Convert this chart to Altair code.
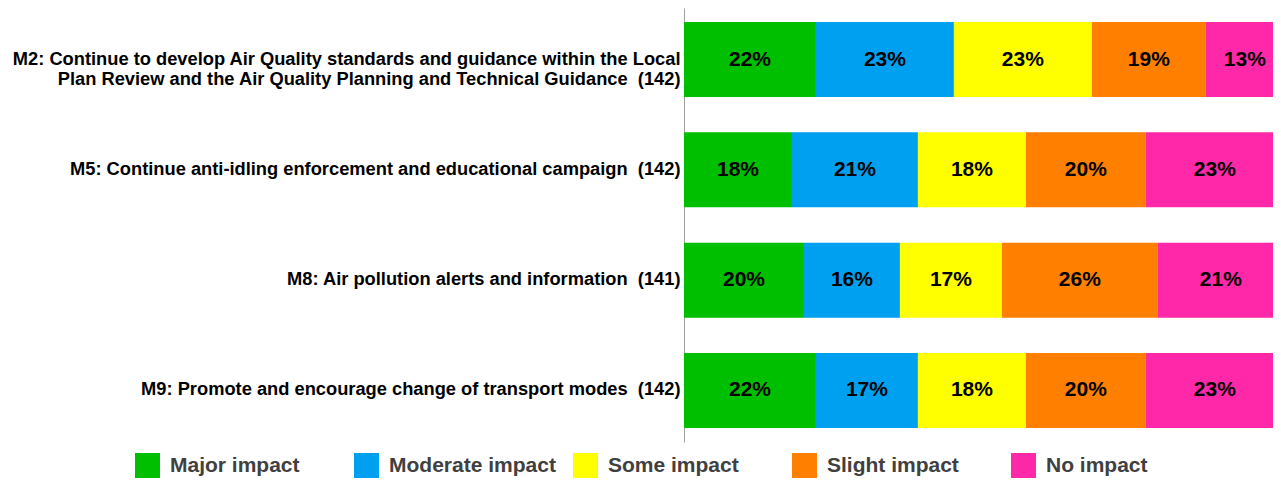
import altair as alt
import pandas as pd

measures = [
    "M2: Continue to develop Air Quality standards and guidance within the Local\nPlan Review and the Air Quality Planning and Technical Guidance \u00a0(142)",
    "M5: Continue anti-idling enforcement and educational campaign \u00a0(142)",
    "M8: Air pollution alerts and information \u00a0(141)",
    "M9: Promote and encourage change of transport modes \u00a0(142)",
]
categories = ["Major impact", "Moderate impact", "Some impact", "Slight impact", "No impact"]
colors = ["#00BE00", "#00A0F0", "#FFFF00", "#FF8000", "#FF28A8"]

major = [22, 18, 20, 22]
moderate = [23, 21, 16, 17]
some = [23, 18, 17, 18]
slight = [19, 20, 26, 20]
none_ = [13, 23, 21, 23]

series = [major, moderate, some, slight, none_]
rows = []
for ci, (cat, vals) in enumerate(zip(categories, series)):
    for mi, m in enumerate(measures):
        rows.append({"measure": m, "category": cat, "order": ci, "value": vals[mi]})
df = pd.DataFrame(rows)

FONT = "Liberation Sans"
XDOMAIN = [0, 98.2]

base = alt.Chart(df).transform_stack(
    stack="value", as_=["x0", "x1"], groupby=["measure"], sort=[alt.SortField("order")]
).transform_calculate(mid="(datum.x0 + datum.x1) / 2", lab="datum.value + '%'")

yenc = alt.Y(
    "measure:N",
    sort=measures,
    title=None,
    scale=alt.Scale(paddingInner=0.32, paddingOuter=0.127),
    axis=alt.Axis(
        labelExpr="split(datum.label, '\\n')",
        labelFont=FONT,
        labelFontSize=18.3,
        labelFontWeight="bold",
        labelColor="#000000",
        labelLineHeight=20,
        labelLimit=0,
        labelPadding=4,
        ticks=False,
        domainColor="#A0A0A0",
        domainWidth=1,
    ),
)

bars = base.mark_bar(clip=True).encode(
    x=alt.X("x0:Q", scale=alt.Scale(domain=XDOMAIN, nice=False, zero=True), axis=None),
    x2="x1:Q",
    y=yenc,
    color=alt.Color(
        "category:N",
        sort=categories,
        scale=alt.Scale(domain=categories, range=colors),
        legend=alt.Legend(
            title=None,
            orient="none",
            direction="horizontal",
            legendX=-549,
            legendY=445,
            symbolType="square",
            symbolSize=625,
            symbolStrokeWidth=0,
            symbolOpacity=1,
            labelFont=FONT,
            labelFontSize=21,
            labelFontWeight="bold",
            labelColor="#404040",
            labelOffset=10,
            columnPadding=17,
            gridAlign="all",
            labelLimit=0,
        ),
    ),
    order=alt.Order("order:Q"),
)

texts = base.mark_text(
    font=FONT, fontSize=21, fontWeight="bold", color="#000000", baseline="middle", align="center"
).encode(
    x=alt.X("mid:Q", scale=alt.Scale(domain=XDOMAIN, nice=False, zero=True), axis=None),
    y=alt.Y("measure:N", sort=measures),
    text="lab:N",
)

chart = (
    alt.layer(bars, texts)
    .properties(
        width=589,
        height=434,
        autosize=alt.AutoSizeParams(type="none"),
        padding={"left": 676, "top": 0, "right": 0, "bottom": 37},
    )
    .configure_view(stroke=None)
)

chart.save("out.html", embed_options={"renderer": "svg", "actions": False})
